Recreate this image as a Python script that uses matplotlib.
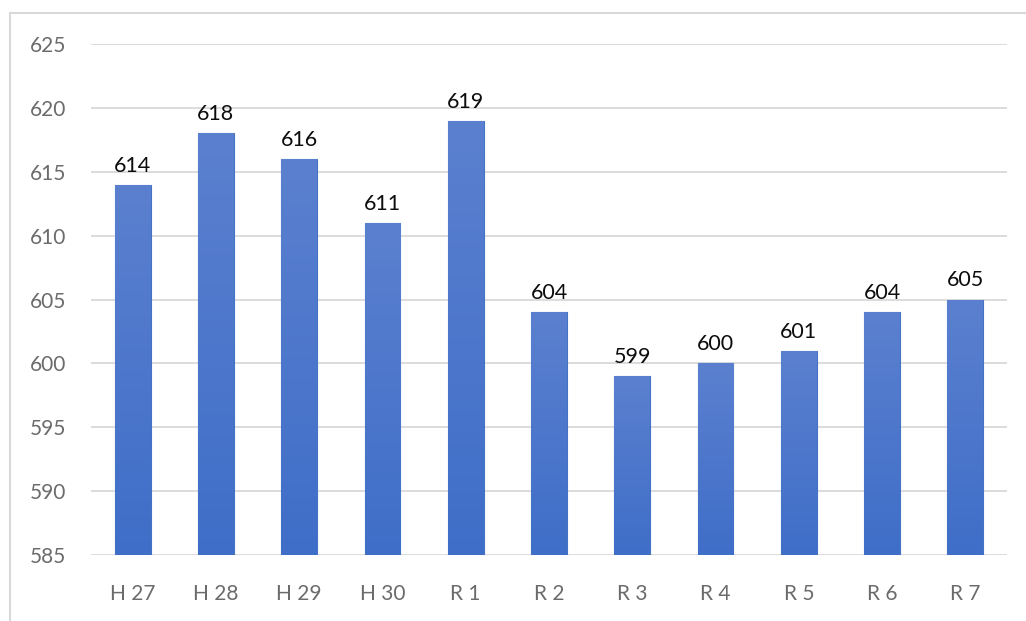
import numpy as np
import matplotlib.pyplot as plt
from matplotlib.colors import LinearSegmentedColormap
from matplotlib.patches import Rectangle

# fiscal years (Heisei / Reiwa) and values
years = ['H 27', 'H 28', 'H 29', 'H 30', 'R 1', 'R 2', 'R 3', 'R 4', 'R 5', 'R 6', 'R 7']
values = [614, 618, 616, 611, 619, 604, 599, 600, 601, 604, 605]

plt.rcParams['font.family'] = ['Lato', 'DejaVu Sans']

fig = plt.figure(figsize=(10.26, 6.21), dpi=100)
ax = fig.add_axes([0.0887, 0.1063, 0.8928, 0.8228])

x = np.arange(len(years))
bars = ax.bar(x, values, width=0.43, color='#4a74c9', edgecolor='#4472c4',
              linewidth=0.8, zorder=2)

# vertical gradient fill, lighter at the top
cmap = LinearSegmentedColormap.from_list('bl', ['#3f6ec8', '#5b80cf'])
grad = np.linspace(0, 1, 256).reshape(-1, 1)
for b in bars:
    im = ax.imshow(grad, cmap=cmap, aspect='auto', origin='lower',
                   extent=[b.get_x(), b.get_x() + b.get_width(), 585, b.get_height()],
                   zorder=2.5)
    im.set_clip_path(b)

for xi, v in zip(x, values):
    ax.annotate(str(v), (xi, v), xytext=(0, 6.5), textcoords='offset points',
                ha='center', va='bottom', fontsize=15.5, color='#0d0d0d')

ax.set_xlim(-0.5, len(years) - 0.5)
ax.set_ylim(585, 625)
ax.set_yticks(range(585, 626, 5))
ax.set_xticks(x)
ax.set_xticklabels(years)
ax.grid(axis='y', color='#d9d9d9', linewidth=1.3, zorder=0)
ax.set_axisbelow(True)
for s in ax.spines.values():
    s.set_visible(False)
ax.tick_params(axis='both', length=0, labelsize=15, labelcolor='#6b6b6b')
ax.tick_params(axis='x', pad=21)
ax.tick_params(axis='y', pad=18)

# chart frame (left and top edges)
fig.patches.append(Rectangle((10 / 1026, -0.1), 1.2, 1 - 13 / 621 + 0.1,
                             transform=fig.transFigure, fill=False,
                             edgecolor='#d9d9d9', linewidth=1.5))

fig.savefig('out.png', dpi=100)
